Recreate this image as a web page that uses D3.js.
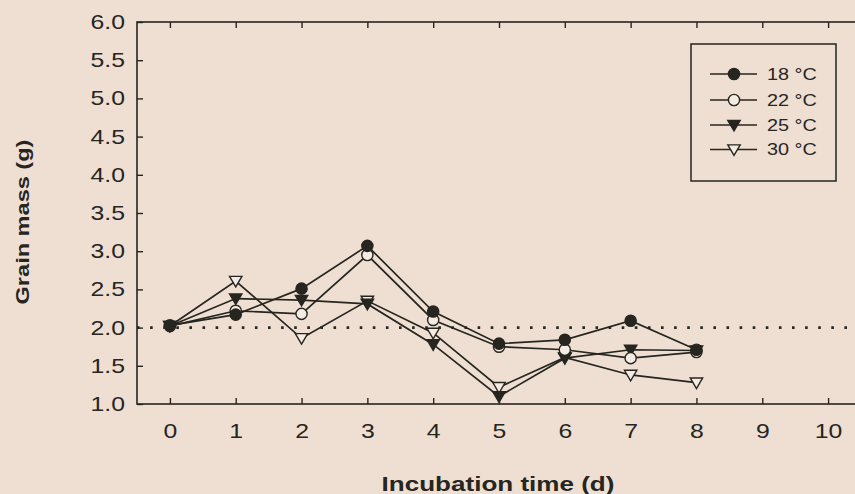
<!DOCTYPE html>
<html>
<head>
<meta charset="utf-8">
<script src="https://cdn.jsdelivr.net/npm/d3@7"></script>
<style>
  html, body { margin: 0; padding: 0; background: #eedfd2; }
  svg { display: block; }
  text { font-family: "Liberation Sans", Arial, sans-serif; fill: #26251f; }
</style>
</head>
<body>
<svg id="chart" width="855" height="494"></svg>
<script>
// Incubation days
const days = [0, 1, 2, 3, 4, 5, 6, 7, 8];
// Grain mass (g) per incubation temperature
const mass18 = [2.03, 2.17, 2.51, 3.07, 2.21, 1.79, 1.84, 2.09, 1.71];
const mass22 = [2.02, 2.22, 2.18, 2.95, 2.10, 1.75, 1.71, 1.60, 1.68];
const mass25 = [2.02, 2.38, 2.36, 2.31, 1.78, 1.10, 1.60, 1.71, 1.70];
const mass30 = [2.02, 2.61, 1.86, 2.35, 1.93, 1.22, 1.61, 1.38, 1.28];
const seriesNames = ["18 °C", "22 °C", "25 °C", "30 °C"];
const xTicks = [0, 1, 2, 3, 4, 5, 6, 7, 8, 9, 10];
const yTicks = [1.0, 1.5, 2.0, 2.5, 3.0, 3.5, 4.0, 4.5, 5.0, 5.5, 6.0];
const refLine = 2.0;

const ink = "#26251f";
const stretch = 1.24; // lettering is set slightly wide
const svg = d3.select("#chart");
const plotL = 137, plotR = 861, plotT = 22, plotB = 404;

const x = d3.scaleLinear().domain([-0.5, 10.5]).range([plotL, plotR]);
const y = d3.scaleLinear().domain([1, 6]).range([plotB, plotT]);

// widen a text element horizontally about its anchor point
function widen(sel) {
  sel.each(function () {
    const t = d3.select(this);
    const tx = +t.attr("x") || 0;
    const prev = t.attr("transform") || "";
    t.attr("x", 0).attr("transform", `${prev} translate(${tx},0) scale(${stretch},1)`);
  });
}

// frame
svg.append("rect")
  .attr("x", plotL).attr("y", plotT)
  .attr("width", plotR - plotL).attr("height", plotB - plotT)
  .attr("fill", "none").attr("stroke", ink).attr("stroke-width", 1.6);

// axes with inward ticks
const tl = 6;
const yAxis = svg.append("g").attr("transform", `translate(${plotL},0)`)
  .call(d3.axisLeft(y).tickValues(yTicks).tickFormat(d3.format(".1f")).tickSize(-tl).tickPadding(12));
const xAxis = svg.append("g").attr("transform", `translate(0,${plotB})`)
  .call(d3.axisBottom(x).tickValues(xTicks).tickFormat(d3.format("d")).tickSize(-tl).tickPadding(20));
const yAxisR = svg.append("g").attr("transform", `translate(${plotR},0)`)
  .call(d3.axisRight(y).tickValues(yTicks).tickFormat("").tickSize(-tl));
const xAxisT = svg.append("g").attr("transform", `translate(0,${plotT})`)
  .call(d3.axisTop(x).tickValues(xTicks).tickFormat("").tickSize(-tl));
[yAxis, xAxis, yAxisR, xAxisT].forEach(g => {
  g.select(".domain").remove();
  g.selectAll(".tick line").attr("stroke", ink).attr("stroke-width", 1.4);
  g.selectAll(".tick text").attr("font-size", 20).attr("fill", ink)
    .style("font-family", "'Liberation Sans', Arial, sans-serif");
});
widen(yAxis.selectAll(".tick text"));
widen(xAxis.selectAll(".tick text"));

// dotted reference line
svg.append("line")
  .attr("x1", plotL).attr("x2", plotR)
  .attr("y1", y(refLine)).attr("y2", y(refLine))
  .attr("stroke", ink).attr("stroke-width", 2.6)
  .attr("stroke-dasharray", "2.6 10.5");

// series
const series = [
  { name: seriesNames[0], values: mass18, shape: "circle", fill: ink },
  { name: seriesNames[1], values: mass22, shape: "circle", fill: "#f4ece4" },
  { name: seriesNames[2], values: mass25, shape: "tri", fill: ink },
  { name: seriesNames[3], values: mass30, shape: "tri", fill: "#f4ece4" }
];

const line = d3.line().x((d, i) => x(days[i])).y(d => y(d));

function drawMarker(g, shape, fill, cx, cy) {
  if (shape === "circle") {
    g.append("circle").attr("cx", cx).attr("cy", cy).attr("r", 5.6)
      .attr("fill", fill).attr("stroke", ink).attr("stroke-width", 1.4);
  } else {
    const s = 6.2;
    g.append("path")
      .attr("d", `M${cx - s},${cy - s * 0.75}L${cx + s},${cy - s * 0.75}L${cx},${cy + s * 0.95}Z`)
      .attr("fill", fill).attr("stroke", ink).attr("stroke-width", 1.4)
      .attr("stroke-linejoin", "miter");
  }
}

series.forEach(s => {
  svg.append("path").datum(s.values).attr("d", line)
    .attr("fill", "none").attr("stroke", ink).attr("stroke-width", 1.7);
});
// markers drawn in reverse so 18 °C sits on top
series.slice().reverse().forEach(s => {
  const g = svg.append("g");
  s.values.forEach((v, i) => drawMarker(g, s.shape, s.fill, x(days[i]), y(v)));
});

// legend
const lg = svg.append("g");
lg.append("rect").attr("x", 691).attr("y", 44).attr("width", 145).attr("height", 137)
  .attr("fill", "none").attr("stroke", ink).attr("stroke-width", 1.5);
const rowY = [74, 100, 125, 149.5];
series.forEach((s, i) => {
  lg.append("line").attr("x1", 710).attr("x2", 757).attr("y1", rowY[i]).attr("y2", rowY[i])
    .attr("stroke", ink).attr("stroke-width", 1.6);
  drawMarker(lg, s.shape, s.fill, 734, rowY[i]);
  lg.append("text").attr("x", 767).attr("y", rowY[i]).attr("dy", "0.36em")
    .attr("font-size", 16).text(s.name).call(widen);
});

// axis titles
svg.append("text")
  .attr("transform", `translate(29,222) rotate(-90)`)
  .attr("text-anchor", "middle").attr("font-size", 19).attr("font-weight", "bold")
  .text("Grain mass (g)").call(widen);
svg.append("text")
  .attr("x", 498).attr("y", 491)
  .attr("text-anchor", "middle").attr("font-size", 21).attr("font-weight", "bold")
  .text("Incubation time (d)").call(widen);
</script>
</body>
</html>
